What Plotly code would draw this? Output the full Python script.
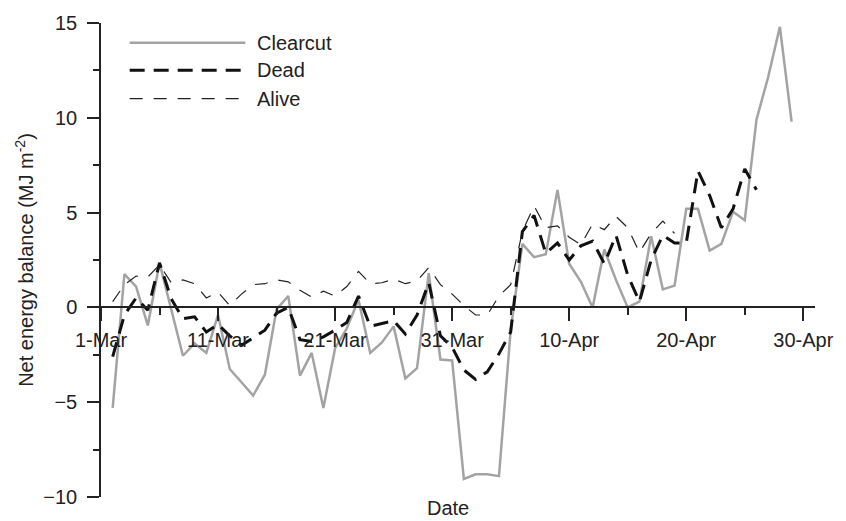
import pandas as pd
import plotly.graph_objects as go

# Daily net energy balance (MJ m-2), first value on 2 March
start_date = "2011-03-02"

clearcut = [
    -5.3, 1.75, 1.1, -0.95, 2.35, -0.1, -2.55, -1.9, -2.4, -0.4,
    -3.25, -3.95, -4.65, -3.55, -0.1, 0.6, -3.6, -2.4, -5.3, -2.15,
    -1.1, 0.4, -2.4, -1.85, -1.0, -3.75, -3.2, 1.8, -2.75, -2.8,
    -9.05, -8.8, -8.8, -8.9, -1.2, 3.35, 2.65, 2.8, 6.2, 2.3,
    1.35, 0.0, 3.05, 1.45, 0.0, 0.3, 3.75, 0.95, 1.15, 5.2,
    5.2, 3.0, 3.35, 5.05, 4.6, 9.9, 12.15, 14.8, 9.8,
]

dead = [
    -2.6, -0.4, 0.5, -0.15, 2.35, 0.45, -0.6, -0.5, -1.3, -0.9,
    -1.5, -2.0, -1.6, -1.2, -0.3, 0.0, -1.7, -1.8, -1.55, -1.2,
    -0.8, 0.6, -1.0, -0.85, -0.7, -1.4, -0.4, 1.3, -1.5, -2.1,
    -3.3, -3.8, -3.4, -2.45, -1.3, 4.0, 4.85, 2.85, 3.4, 2.5,
    3.25, 3.5, 2.3, 3.8, 1.7, 0.3, 2.5, 3.8, 3.4, 3.4,
    7.2, 5.9, 4.2, 5.2, 7.3, 6.2,
]

alive = [
    0.3, 1.2, 1.65, 1.6, 2.25, 1.3, 1.45, 1.25, 0.5, 0.8,
    0.1, 0.7, 1.2, 1.25, 1.45, 1.35, 0.9, 0.55, 0.85, 0.6,
    1.1, 1.9, 1.25, 1.3, 1.5, 1.25, 1.4, 2.1, 1.2, 0.7,
    0.1, -0.4, -0.4, 0.6, 1.2, 4.0, 5.35, 4.2, 4.3, 3.7,
    3.3, 4.4, 4.1, 4.8, 4.2, 2.9, 3.9, 4.55, 3.9,
]

tick_dates = ["2011-03-01", "2011-03-11", "2011-03-21", "2011-03-31",
              "2011-04-10", "2011-04-20", "2011-04-30"]
tick_labels = ["1-Mar", "11-Mar", "21-Mar", "31-Mar", "10-Apr", "20-Apr", "30-Apr"]
minor_dates = ["2011-03-06", "2011-03-16", "2011-03-26", "2011-04-05",
               "2011-04-15", "2011-04-25"]

y_ticks = [-10, -5, 0, 5, 10, 15]
y_minor = [-7.5, -2.5, 2.5, 7.5, 12.5]


def days(values):
    return pd.date_range(start_date, periods=len(values), freq="D")


FONT = "Liberation Sans, Arial, sans-serif"
GREY = "#a3a3a3"
INK = "#111111"

series = [
    ("Clearcut", clearcut, dict(color=GREY, width=2.5)),
    ("Dead", dead, dict(color=INK, width=3, dash="15px,9px")),
    ("Alive", alive, dict(color="#222222", width=1.2, dash="13px,11px")),
]

fig = go.Figure()
for name, vals, line in series:
    fig.add_trace(go.Scatter(x=days(vals), y=vals, mode="lines", name=name,
                             line=line, cliponaxis=False))

# plot-area geometry in pixels, used to place the hand-drawn key
L, R, T, B = 101, 823, 16, 497


def px(x):
    return (x - L) / (R - L)


def py(y):
    return (B - y) / (B - T)


shapes = []
annotations = []
key_rows = [36, 64, 92.7]
for (name, _, line), row in zip(series, key_rows):
    shapes.append(dict(type="line", xref="paper", yref="paper",
                       x0=px(130), x1=px(247), y0=py(row), y1=py(row),
                       line=line))
    annotations.append(dict(xref="paper", yref="paper", x=px(257), y=py(row),
                            xanchor="left", yanchor="middle", text=name,
                            showarrow=False, font=dict(size=20, color="#222")))

annotations.append(dict(xref="paper", yref="paper", x=px(23), y=0.5,
                        xanchor="center", yanchor="middle", textangle=-90,
                        text="Net energy balance (MJ m<sup>-2</sup>)",
                        showarrow=False, font=dict(size=20, color="#222")))
annotations.append(dict(xref="paper", yref="paper", x=px(452), y=py(508),
                        xanchor="center", yanchor="middle", text="Date",
                        showarrow=False, font=dict(size=20, color="#222")))

fig.update_layout(
    width=846, height=521,
    margin=dict(l=L, r=846 - R, t=T, b=521 - B, pad=0),
    paper_bgcolor="white", plot_bgcolor="white",
    showlegend=False,
    font=dict(family=FONT, size=20, color="#222"),
    shapes=shapes, annotations=annotations,
    xaxis=dict(
        range=["2011-03-01", "2011-05-01"],
        anchor="free", position=10 / 25, side="bottom",
        showline=True, linecolor="#222", linewidth=1.5,
        showgrid=False, zeroline=False,
        tickmode="array", tickvals=tick_dates, ticktext=tick_labels,
        ticks="outside", ticklen=13, tickwidth=1.5, tickcolor="#222",
        ticklabelstandoff=2,
        minor=dict(tickmode="array", tickvals=minor_dates, ticks="outside",
                   ticklen=7, tickwidth=1.5, tickcolor="#222"),
    ),
    yaxis=dict(
        range=[-10, 15],
        showline=True, linecolor="#222", linewidth=1.5,
        showgrid=False, zeroline=False,
        tickmode="array", tickvals=y_ticks,
        ticks="outside", ticklen=12, tickwidth=1.5, tickcolor="#222",
        ticklabelstandoff=6,
        minor=dict(tickmode="array", tickvals=y_minor, ticks="outside",
                   ticklen=6, tickwidth=1.5, tickcolor="#222"),
    ),
)

fig.write_html("out.html")
